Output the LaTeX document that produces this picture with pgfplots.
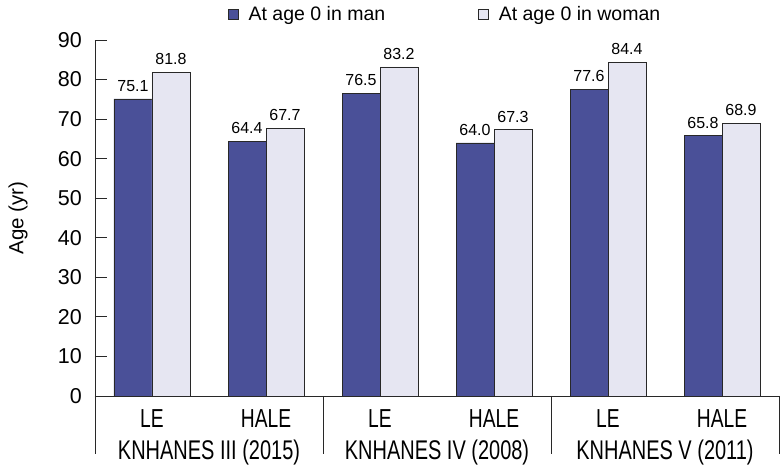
\documentclass[border=0pt]{standalone}
\usepackage{fontspec}
\setmainfont{Liberation Sans}
\newfontfamily\condfont[FakeStretch=0.74]{Liberation Sans}
\usepackage{pgfplots}
\pgfplotsset{compat=1.18}
\definecolor{man}{RGB}{74,80,152}
\definecolor{woman}{RGB}{230,230,242}
\definecolor{axgray}{RGB}{40,40,40}
\begin{document}
\begin{tikzpicture}
\begin{axis}[
  scale only axis, width=684pt, height=356pt,
  xmin=-0.5, xmax=5.5, ymin=0, ymax=90,
  axis lines*=left,
  axis line style={axgray, line width=0.8pt},
  ybar=0pt, bar width=38pt,
  ytick={0,10,...,90},
  tick align=inside,
  major tick length=12pt,
  y tick style={axgray, line width=0.8pt},
  xtick={0,...,5},
  xticklabels={LE,HALE,LE,HALE,LE,HALE},
  x tick style={draw=none},
  /pgf/number format/assume math mode=true,
  yticklabel style={font=\fontsize{21.5}{23}\selectfont, inner sep=0pt, xshift=-13pt},
  xticklabel style={font=\condfont\fontsize{26}{28}\selectfont, inner sep=0pt, yshift=-13pt},
  ylabel={Age (yr)},
  every axis y label/.style={at={([xshift=-77pt]axis description cs:0,0.5)}, rotate=90, anchor=center,
    font=\fontsize{20.5}{22}\selectfont},
  nodes near coords={\pgfmathprintnumber[fixed,fixed zerofill,precision=1]{\pgfplotspointmeta}},
  every node near coord/.append style={font=\fontsize{16}{18}\selectfont, inner sep=0pt, yshift=7pt, text=black},
  clip=false,
  legend image code/.code={\draw[#1, draw=axgray, line width=0.5pt] (0pt,-5pt) rectangle (10pt,5pt);},
  legend columns=2,
  legend style={draw=none, fill=none, inner sep=0pt, at={(axis description cs:0.1944,1.073)}, anchor=west,
    nodes={inner sep=0pt}, font=\fontsize{19.5}{21}\selectfont,
    /tikz/every odd column/.append style={column sep=10pt},
    /tikz/every even column/.append style={column sep=93pt}},
]
\addplot[fill=man, draw=axgray, line width=0.6pt] coordinates {(0,75.1) (1,64.4) (2,76.5) (3,64.0) (4,77.6) (5,65.8)};
\addlegendentry{At age 0 in man}
\addplot[fill=woman, draw=axgray, line width=0.6pt] coordinates {(0,81.8) (1,67.7) (2,83.2) (3,67.3) (4,84.4) (5,68.9)};
\addlegendentry{At age 0 in woman}
\draw[axgray, line width=0.8pt] (axis cs:-0.5,0) -- ++(0pt,-58pt);
\draw[axgray, line width=0.8pt] (axis cs:1.5,0) -- ++(0pt,-58pt);
\draw[axgray, line width=0.8pt] (axis cs:3.5,0) -- ++(0pt,-58pt);
\draw[axgray, line width=0.8pt] (axis cs:5.5,0) -- ++(0pt,-58pt);
\node[font=\condfont\fontsize{27}{29}\selectfont, anchor=base] at ([yshift=-64pt]axis cs:0.5,0) {KNHANES III (2015)};
\node[font=\condfont\fontsize{27}{29}\selectfont, anchor=base] at ([yshift=-64pt]axis cs:2.5,0) {KNHANES IV (2008)};
\node[font=\condfont\fontsize{27}{29}\selectfont, anchor=base] at ([yshift=-64pt]axis cs:4.5,0) {KNHANES V (2011)};
\coordinate (sw) at (rel axis cs:0,0);
\coordinate (ne) at (rel axis cs:1,1);
\end{axis}
\pgfresetboundingbox
\path[use as bounding box] ([xshift=-95pt,yshift=-71pt]sw) rectangle ([xshift=5pt,yshift=40pt]ne);
\end{tikzpicture}
\end{document}
